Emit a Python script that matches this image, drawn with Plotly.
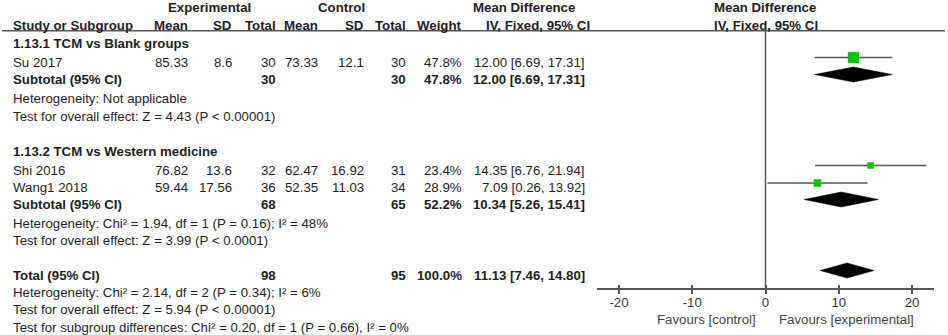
import plotly.graph_objects as go

# ---------------- data ----------------
study = ["Su 2017", "Shi 2016", "Wang1 2018"]
study_group = [0, 1, 1]
exp_mean = [85.33, 76.82, 59.44]
exp_sd = [8.6, 13.6, 17.56]
exp_n = [30, 32, 36]
ctl_mean = [73.33, 62.47, 52.35]
ctl_sd = [12.1, 16.92, 11.03]
ctl_n = [30, 31, 34]
weight = [47.8, 23.4, 28.9]
md = [12.00, 14.35, 7.09]
md_lo = [6.69, 6.76, 0.26]
md_hi = [17.31, 21.94, 13.92]

groups = ["1.13.1 TCM vs Blank groups", "1.13.2 TCM vs Western medicine"]
sub_exp_n = [30, 68]
sub_ctl_n = [30, 65]
sub_weight = [47.8, 52.2]
sub_md = [12.00, 10.34]
sub_lo = [6.69, 5.26]
sub_hi = [17.31, 15.41]
sub_het = ["Heterogeneity: Not applicable",
           "Heterogeneity: Chi\u00b2 = 1.94, df = 1 (P = 0.16); I\u00b2 = 48%"]
sub_test = ["Test for overall effect: Z = 4.43 (P < 0.00001)",
            "Test for overall effect: Z = 3.99 (P < 0.0001)"]

tot_exp_n = 98
tot_ctl_n = 95
tot_weight = 100.0
tot_md = 11.13
tot_lo = 7.46
tot_hi = 14.80
tot_notes = ["Heterogeneity: Chi\u00b2 = 2.14, df = 2 (P = 0.34); I\u00b2 = 6%",
             "Test for overall effect: Z = 5.94 (P < 0.00001)",
             "Test for subgroup differences: Chi\u00b2 = 0.20, df = 1 (P = 0.66), I\u00b2 = 0%"]

col_headers = ["Mean", "SD", "Total", "Mean", "SD", "Total", "Weight"]
axis_ticks = [-20, -10, 0, 10, 20]
fav_left = "Favours [control]"
fav_right = "Favours [experimental]"

# ---------------- layout constants (pixels) ----------------
W, H = 948, 335
FONT = "Arial, Liberation Sans, sans-serif"
TXT = "#1e1e1e"
LINE = "#555555"
FS = 13.25
col_right = [188, 232, 276, 318, 364, 406, 462, 585]
LEFT = 13
GOFF = 4.5  # graphic offset above text line

group_header_y = [43, 151]
study_text_y = [62, 170, 187.5]
sub_text_y = [79, 204]
sub_het_y = [98, 223]
sub_test_y = [116, 240.5]
tot_text_y = 275
tot_notes_y = [292, 309.5, 327]
axis_y = 288.5
header_line_y = 30.7

fig = go.Figure()
ann = []


def px(x):
    return x / W


def text(x, y, s, anchor="left", bold=False, color=TXT):
    ann.append(dict(x=px(x), y=y, xref="paper", yref="y", text=f"<b>{s}</b>" if bold else s,
                    xanchor=anchor, yanchor="middle", showarrow=False,
                    font=dict(family=FONT, size=FS, color=color),
                    borderpad=0, borderwidth=0))


def ci_str(m, l, h):
    return f"{m:.2f} [{l:.2f}, {h:.2f}]"


# headers
text(209, 7, "Experimental", "center", True)
text(341.5, 7, "Control", "center", True)
text(523.5, 7, "Mean Difference", "center", True)
text(765, 7, "Mean Difference", "center", True)
text(LEFT, 25, "Study or Subgroup", "left", True)
for xr, h in zip(col_right, col_headers):
    text(xr, 25, h, "right", True)
text(590, 25, "IV, Fixed, 95% CI", "right", True)
text(766, 25, "IV, Fixed, 95% CI", "center", True)

fig.add_shape(type="line", xref="paper", yref="y", x0=px(2), x1=px(945),
              y0=header_line_y, y1=header_line_y, line=dict(color=LINE, width=1.5))

# group rows
for g in range(len(groups)):
    text(LEFT, group_header_y[g], groups[g], bold=True)
    text(LEFT, sub_text_y[g], "Subtotal (95% CI)", bold=True)
    text(col_right[2], sub_text_y[g], str(sub_exp_n[g]), "right", True)
    text(col_right[5], sub_text_y[g], str(sub_ctl_n[g]), "right", True)
    text(col_right[6], sub_text_y[g], f"{sub_weight[g]:.1f}%", "right", True)
    text(col_right[7], sub_text_y[g], ci_str(sub_md[g], sub_lo[g], sub_hi[g]), "right", True)
    text(LEFT, sub_het_y[g], sub_het[g])
    text(LEFT, sub_test_y[g], sub_test[g])

# study rows
for i in range(len(study)):
    y = study_text_y[i]
    text(LEFT, y, study[i])
    vals = [f"{exp_mean[i]:.2f}", f"{exp_sd[i]:g}", str(exp_n[i]),
            f"{ctl_mean[i]:.2f}", f"{ctl_sd[i]:g}", str(ctl_n[i]),
            f"{weight[i]:.1f}%", ci_str(md[i], md_lo[i], md_hi[i])]
    for xr, v in zip(col_right, vals):
        text(xr, y, v, "right")

# total
text(LEFT, tot_text_y, "Total (95% CI)", bold=True)
text(col_right[2], tot_text_y, str(tot_exp_n), "right", True)
text(col_right[5], tot_text_y, str(tot_ctl_n), "right", True)
text(col_right[6], tot_text_y, f"{tot_weight:.1f}%", "right", True)
text(col_right[7], tot_text_y, ci_str(tot_md, tot_lo, tot_hi), "right", True)
for y, s in zip(tot_notes_y, tot_notes):
    text(LEFT, y, s)

# favours labels
text(756, 319.5, fav_left, "right", color="#444444")
text(779, 319.5, fav_right, "left", color="#444444")

# ---------------- forest graphics ----------------
# null line
fig.add_trace(go.Scatter(x=[0, 0], y=[header_line_y, axis_y], mode="lines",
                         line=dict(color=LINE, width=1.5), hoverinfo="skip"))

# CI lines and squares
for i in range(len(study)):
    yg = study_text_y[i] - GOFF
    fig.add_trace(go.Scatter(x=[md_lo[i], md_hi[i]], y=[yg, yg], mode="lines",
                             line=dict(color=LINE, width=1.5), hoverinfo="skip"))
for i in range(len(study)):
    yg = study_text_y[i] - GOFF
    fig.add_trace(go.Scatter(x=[md[i]], y=[yg], mode="markers",
                             marker=dict(symbol="square", color="#00c400",
                                         size=2 + 0.19 * weight[i], line=dict(width=0)),
                             hoverinfo="skip"))


def diamond(m, l, h, yc, half=7.5):
    fig.add_trace(go.Scatter(x=[l, m, h, m, l], y=[yc, yc - half, yc, yc + half, yc],
                             mode="lines", fill="toself", fillcolor="black",
                             line=dict(color="black", width=0.5), hoverinfo="skip"))


for g in range(len(groups)):
    diamond(sub_md[g], sub_lo[g], sub_hi[g], sub_text_y[g] - GOFF)
diamond(tot_md, tot_lo, tot_hi, tot_text_y - GOFF)

# invisible trace to activate overlay axis for inner tick marks
fig.add_trace(go.Scatter(x=[0], y=[axis_y], xaxis="x2", mode="markers",
                         marker=dict(opacity=0), hoverinfo="skip"))

dom = [px(597), px(934)]
pos = (H - axis_y) / H
fig.update_layout(
    width=W, height=H, margin=dict(l=0, r=0, t=0, b=0),
    paper_bgcolor="white", plot_bgcolor="white", showlegend=False,
    annotations=ann,
    xaxis=dict(domain=dom, range=[-23, 23], anchor="free", position=pos,
               showline=True, linecolor=LINE, linewidth=1.5,
               ticks="outside", ticklen=5, tickwidth=1.5, tickcolor=LINE,
               ticklabelstandoff=-3,
               tickvals=axis_ticks, ticktext=[str(t) for t in axis_ticks],
               tickfont=dict(family=FONT, size=FS, color="#333333"),
               showgrid=False, zeroline=False, fixedrange=True),
    xaxis2=dict(overlaying="x", range=[-23, 23], anchor="free", position=pos,
                showline=False, ticks="inside", ticklen=4, tickwidth=1.5, tickcolor=LINE,
                tickvals=axis_ticks, showticklabels=False,
                showgrid=False, zeroline=False, fixedrange=True),
    yaxis=dict(domain=[0, 1], range=[H, 0], visible=False, fixedrange=True),
)

fig.write_html("out.html", config={"displayModeBar": False},
               post_script="document.body.style.margin='0';document.body.style.overflow='hidden';")
